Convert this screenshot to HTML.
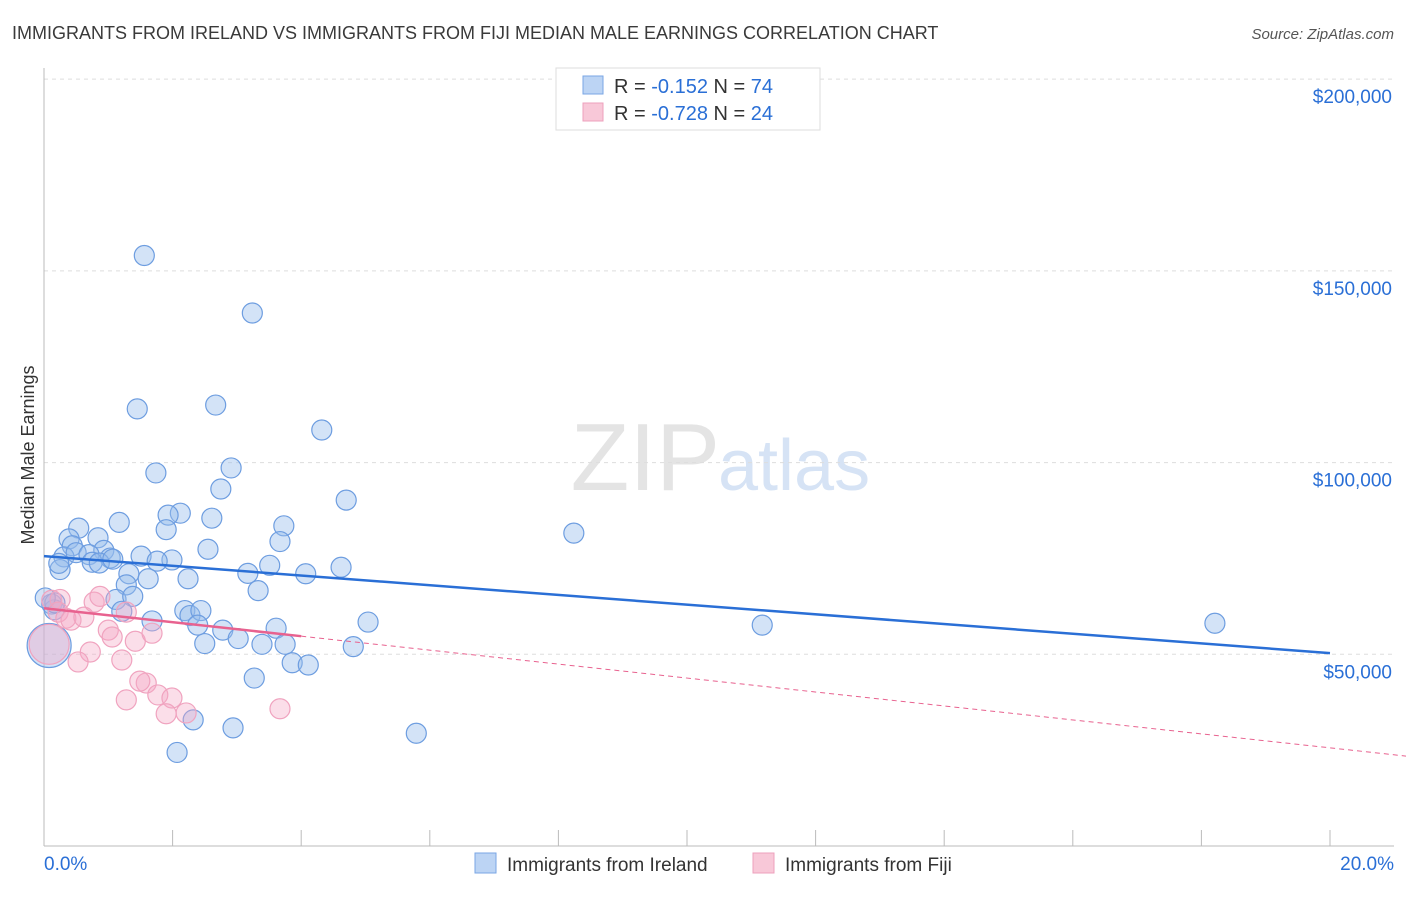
<!DOCTYPE html>
<html><head><meta charset="utf-8"><style>
body{margin:0;background:#fff;font-family:"Liberation Sans",sans-serif}
svg text{font-family:"Liberation Sans",sans-serif}
</style></head><body>
<svg id="c" width="1406" height="892">
<text x="12" y="39" font-size="18" fill="#3a3a3a">IMMIGRANTS FROM IRELAND VS IMMIGRANTS FROM FIJI MEDIAN MALE EARNINGS CORRELATION CHART</text>
<text x="1394" y="39" font-size="15" fill="#555" text-anchor="end" font-style="italic">Source: ZipAtlas.com</text>
<text x="720" y="490" font-size="96" fill="#e4e4e4" text-anchor="end" font-family="Liberation Serif">ZIP</text>
<text x="718" y="490" font-size="72" fill="#d6e3f5">atlas</text>
<text x="34" y="455" font-size="18" fill="#333" text-anchor="middle" transform="rotate(-90 34 455)">Median Male Earnings</text>
<g id="grid"></g><g id="marks"></g>
<g>
<rect x="556" y="68" width="264" height="62" fill="#fff" stroke="#ddd"/>
<rect x="583" y="76" width="20" height="18" fill="#bcd4f4" stroke="#7aa6e4"/>
<text x="614" y="93" font-size="20" fill="#333">R = <tspan fill="#2a6fd6">-0.152</tspan>   N = <tspan fill="#2a6fd6">74</tspan></text>
<rect x="583" y="103" width="20" height="18" fill="#f8c8d8" stroke="#eea0bc"/>
<text x="614" y="120" font-size="20" fill="#333">R = <tspan fill="#2a6fd6">-0.728</tspan>   N = <tspan fill="#2a6fd6">24</tspan></text>
</g>
<g>
<rect x="475" y="853" width="21" height="20" fill="#bcd4f4" stroke="#7aa6e4"/>
<text x="507" y="871" font-size="19" fill="#333">Immigrants from Ireland</text>
<rect x="753" y="853" width="21" height="20" fill="#f8c8d8" stroke="#eea0bc"/>
<text x="785" y="871" font-size="19" fill="#333">Immigrants from Fiji</text>
</g>
<text x="44" y="870" font-size="19" fill="#2a6fd6">0.0%</text>
<text x="1394" y="870" font-size="19" fill="#2a6fd6" text-anchor="end">20.0%</text>
</svg>
<script>
const yTicks=[50000,100000,150000,200000];
const yTickLabels=["$50,000","$100,000","$150,000","$200,000"];
const irelandX=[1.56,3.24,1.45,2.67,4.32,1.74,2.91,2.75,4.70,8.24,2.12,1.93,2.61,1.17,0.54,1.90,3.73,0.39,0.84,0.44,2.55,3.67,0.93,0.31,0.50,0.70,1.03,1.51,1.99,1.76,0.75,0.86,1.07,0.25,0.23,3.51,4.62,3.17,4.07,1.32,2.24,1.62,1.28,3.33,1.12,1.38,0.12,0.16,1.21,2.19,2.27,2.44,5.04,1.68,2.39,3.61,11.17,18.21,2.78,3.02,3.39,2.50,3.75,4.81,3.86,4.11,3.27,2.32,2.94,5.79,2.07,0.08,0.17,0.02];
const irelandY=[154000,139000,114000,115000,108500,97300,98600,93100,90200,81600,86800,86300,85500,84400,82900,82500,83500,80100,80400,78300,77400,79400,77100,75400,76500,76000,75100,75600,74600,74300,74000,73800,74800,72100,73700,73200,72700,71100,71000,71000,69700,69700,68100,66600,64300,65100,63100,61600,61200,61400,60100,61400,58400,58700,57600,56800,57600,58100,56300,54100,52600,52800,52600,52000,47800,47200,43800,32900,30800,29400,24400,52300,63400,64700];
const fijiX=[0.12,0.25,0.22,0.34,0.42,0.62,0.78,0.87,1.28,1.00,1.06,1.42,1.68,0.72,0.53,1.21,1.59,1.49,1.77,1.99,1.90,2.21,1.28,3.67,0.08];
const fijiY=[64100,64300,61000,59400,58900,59700,63600,65100,61000,56300,54500,53400,55500,50600,48000,48500,42500,43000,39400,38600,34500,34700,38100,35800,52600];
const trendX=[0,20];const irelandTrend=[75600,50300];
const fijiTrend=[62000,25600];const fijiSolidEnd=4;
const X=v=>44+v*64.3, Y=v=>846-v/260.8;
const NS="http://www.w3.org/2000/svg";
const mk=(t,a,p)=>{const e=document.createElementNS(NS,t);for(const k in a)e.setAttribute(k,a[k]);p.appendChild(e);return e;};
const g=document.getElementById('grid'),m=document.getElementById('marks');
yTicks.forEach((v,i)=>{
 const l=mk('line',{x1:44,x2:1394,y1:Y(v),y2:Y(v),stroke:'#ddd','stroke-dasharray':'4,4'},g);
 
 
 const t=mk('text',{x:1392,y:Y(v)+24,'font-size':19,fill:'#2a6fd6','text-anchor':'end'},g);t.textContent=yTickLabels[i];
 
 
});
mk('line',{x1:44,x2:44,y1:68,y2:846,stroke:'#bbb'},g);
mk('line',{x1:44,x2:1394,y1:846,y2:846,stroke:'#bbb'},g);
for(let i=0;i<=10;i++){const tk=mk('line',{x1:X(i*2),x2:X(i*2),y1:830,y2:846,stroke:'#bbb'},g);
 
 }
function dot(x,y,r,f,s,name){const c=mk('circle',{cx:X(x),cy:Y(y),r:r,fill:f,stroke:s,'stroke-width':1.2},m);
 
 }
irelandX.forEach((x,i)=>dot(x,irelandY[i],i==71?22:10,'rgba(150,188,236,0.42)','#6d9de0','ireland-point'));
fijiX.forEach((x,i)=>dot(x,fijiY[i],i==24?20:10,'rgba(244,168,196,0.38)','#f0a3bf','fiji-point'));
const sl=(fijiTrend[1]-fijiTrend[0])/(trendX[1]-trendX[0]);
const zeroX=-fijiTrend[0]/sl;
const tb=mk('line',{x1:X(trendX[0]),y1:Y(irelandTrend[0]),x2:X(trendX[1]),y2:Y(irelandTrend[1]),stroke:'#2a6fd6','stroke-width':2.5},m);


const tp=mk('line',{x1:X(0),y1:Y(fijiTrend[0]),x2:X(fijiSolidEnd),y2:Y(fijiTrend[0]+sl*fijiSolidEnd),stroke:'#e8628f','stroke-width':2.5},m);


const td=mk('line',{x1:X(fijiSolidEnd),y1:Y(fijiTrend[0]+sl*fijiSolidEnd),x2:X(zeroX),y2:Y(0),stroke:'#e8628f','stroke-width':1,'stroke-dasharray':'5,4'},m);


</script>
</body></html>
